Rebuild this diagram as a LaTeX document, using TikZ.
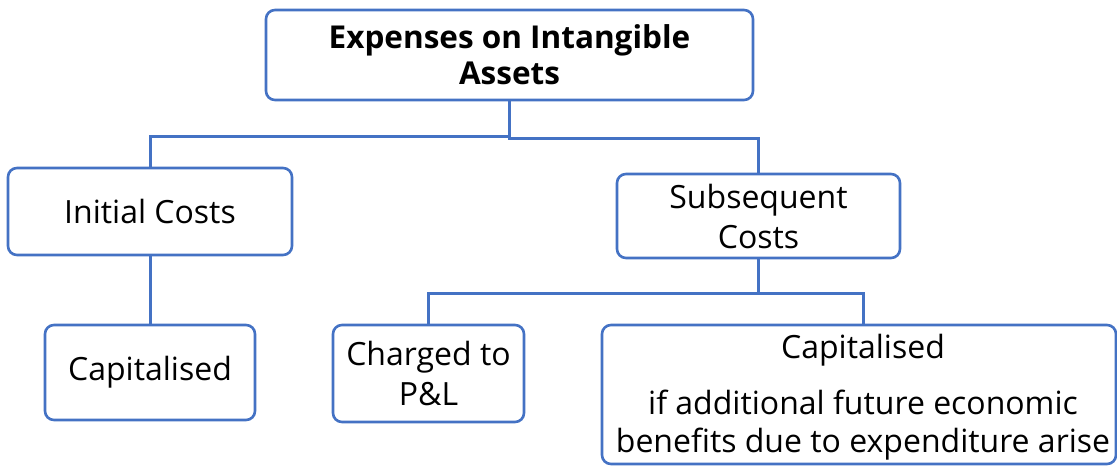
\documentclass[tikz,border=0pt]{standalone}
\usepackage{fontspec}
\setmainfont{Open Sans}
\definecolor{linkblue}{HTML}{4472C4}
\begin{document}
\begin{tikzpicture}[x=1pt,y=-1pt,
  box/.style={draw=linkblue, line width=2.6pt, rounded corners=9pt, fill=white,
    inner sep=0pt, align=center, font=\fontsize{32}{40}\selectfont},
  label/.style={inner sep=0pt, align=center, font=\fontsize{32}{38}\selectfont},
  link/.style={draw=linkblue, line width=3pt}]
\useasboundingbox (0,0) rectangle (1117,466);
% top level
\node[box, minimum width=487pt, minimum height=90pt,
  font=\bfseries\fontsize{31.5}{36}\selectfont] (top) at (509.5,55)
  {Expenses on Intangible\\Assets};
% second level
\node[box, minimum width=284pt, minimum height=87pt] (init) at (150,211.5) {Initial Costs};
\node[box, minimum width=283pt, minimum height=84pt] (subs) at (758.5,216) {Subsequent\\Costs};
% third level
\node[box, minimum width=210pt, minimum height=95pt] (cap1) at (150,372.5) {Capitalised};
\node[box, minimum width=191pt, minimum height=97pt] (chg) at (428.5,373.5) {Charged to\\P\&L};
\node[box, minimum width=514pt, minimum height=139pt] (cap2) at (859,394.5) {};
\node[label] (cap2text) at ([xshift=4pt,yshift=-3pt]cap2.center)
  {Capitalised\\[18pt]if additional future economic\\benefits due to expenditure arise};
% connectors
\draw[link] (top.south) -- ++(0,35) -| (init.north);
\draw[link] (top.south) -- ++(0,37) -| (subs.north);
\draw[link] (init.south) -- (cap1.north);
\draw[link] (subs.south) -- ++(0,34) -| (chg.north);
\draw[link] (subs.south) -- ++(0,34) -| ([xshift=4pt]cap2.north);
\end{tikzpicture}
\end{document}
